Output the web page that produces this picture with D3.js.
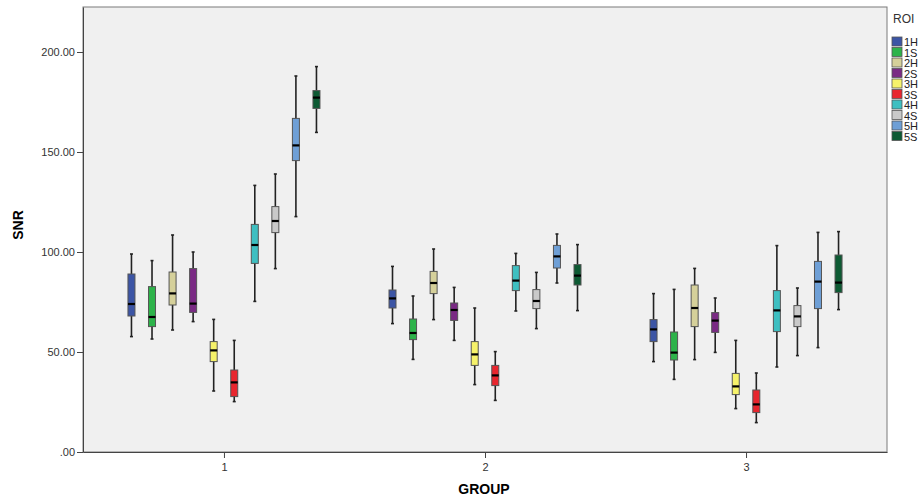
<!DOCTYPE html>
<html>
<head>
<meta charset="utf-8">
<script src="https://cdn.jsdelivr.net/npm/d3@7"></script>
<style>
  body { margin: 0; background: #fff; }
  text { font-family: Arial, "Liberation Sans", sans-serif; }
</style>
</head>
<body>
<div id="chart"></div>
<script>
// data: [low whisker, Q1, median, Q3, high whisker]
var groups = ["1", "2", "3"];
var rois = ["1H", "1S", "2H", "2S", "3H", "3S", "4H", "4S", "5H", "5S"];
var roiColors = ["#3c55a5", "#2db34a", "#d5d09a", "#7a2a84", "#f6f26a", "#e8262e", "#3ebfc1", "#c9c9c9", "#6e9fd6", "#0d5a33"];
var yTicks = [0, 50, 100, 150, 200];

var group1 = [
  [57.7, 68, 74, 89, 99],
  [56.5, 62.7, 67.5, 82.7, 95.7],
  [61, 73.5, 79.3, 90, 108.5],
  [65.2, 69.8, 74.2, 91.7, 100],
  [30.5, 45.2, 50.8, 55.2, 66.3],
  [25.2, 27.7, 34.8, 41, 55.8],
  [75.3, 94.3, 103.5, 113.8, 133.3],
  [91.7, 109.7, 115.5, 122.7, 139],
  [117.7, 145.7, 153.3, 166.8, 188],
  [159.8, 171.8, 177.2, 180.7, 192.7]
];
var group2 = [
  [64.2, 72, 76.8, 81, 92.8],
  [46.3, 56.2, 59.5, 66.5, 78],
  [66.2, 79.2, 84.5, 90.3, 101.5],
  [55.8, 65.8, 71, 74.5, 82.3],
  [33.7, 43.3, 48.8, 55.2, 72],
  [25.8, 33.2, 38.3, 43.3, 50.2],
  [70.5, 80.7, 85.7, 93.2, 99.3],
  [61.7, 71.7, 75.5, 81.2, 89.8],
  [84.5, 92, 97.8, 103.3, 109],
  [70.7, 83.5, 88.2, 93.7, 103.7]
];
var group3 = [
  [45.2, 55.2, 61.3, 66.2, 79.2],
  [36.3, 46, 49.7, 60, 81.3],
  [46.2, 62.7, 72, 83.5, 91.8],
  [49.8, 59.8, 65.7, 69.7, 77],
  [21.7, 28.7, 32.8, 39.3, 55.8],
  [14.7, 19.7, 23.8, 31, 39.5],
  [42.5, 60.2, 70.8, 80.7, 103.2],
  [48.2, 62.7, 67.8, 73.2, 82],
  [52.2, 71.7, 85.2, 95.3, 109.8],
  [71.2, 79.7, 84.7, 98.5, 110.2]
];
var allGroups = [group1, group2, group3];

var W = 921, H = 500;
var plot = { left: 83, right: 887, top: 7, bottom: 452 };

var svg = d3.select("#chart").append("svg")
  .attr("width", W)
  .attr("height", H);

var x = d3.scalePoint()
  .domain(groups)
  .range([plot.left, plot.right])
  .padding(0.54);

var y = d3.scaleLinear()
  .domain([0, 222.5])
  .range([plot.bottom, plot.top]);

var offset = d3.scalePoint()
  .domain(rois)
  .range([-92.5, 92.5]);

var color = d3.scaleOrdinal().domain(rois).range(roiColors);

// plot background
svg.append("rect")
  .attr("x", plot.left)
  .attr("y", plot.top)
  .attr("width", plot.right - plot.left)
  .attr("height", plot.bottom - plot.top)
  .attr("fill", "#f0f0f0")
  .attr("stroke", "#7a7a7a")
  .attr("stroke-width", 1);

// y axis
var yAxis = svg.append("g")
  .attr("transform", "translate(" + plot.left + ",0)")
  .call(d3.axisLeft(y).tickValues(yTicks).tickSizeInner(6).tickSizeOuter(0).tickPadding(2)
    .tickFormat(d => d === 0 ? ".00" : d3.format(".2f")(d)));
yAxis.select(".domain").attr("stroke", "#444");
yAxis.selectAll(".tick line").attr("stroke", "#444");
yAxis.selectAll("text").attr("font-size", 11).attr("fill", "#333");

// x axis
var xAxis = svg.append("g")
  .attr("transform", "translate(0," + plot.bottom + ")")
  .call(d3.axisBottom(x).tickSizeInner(6).tickSizeOuter(0).tickPadding(5));
xAxis.select(".domain").attr("stroke", "#444");
xAxis.selectAll(".tick line").attr("stroke", "#444");
xAxis.selectAll("text").attr("font-size", 11).attr("fill", "#333");

// axis titles
svg.append("text")
  .attr("text-anchor", "middle")
  .attr("transform", "rotate(-90)")
  .attr("x", -225)
  .attr("y", 23)
  .attr("font-size", 14)
  .attr("font-weight", "bold")
  .text("SNR");

svg.append("text")
  .attr("text-anchor", "middle")
  .attr("x", 484)
  .attr("y", 494)
  .attr("font-size", 14)
  .attr("font-weight", "bold")
  .text("GROUP");

// boxes
var boxW = 7, capW = 3;
allGroups.forEach(function(groupData, gi) {
  var g = svg.append("g");
  groupData.forEach(function(d, ri) {
    var cx = x(groups[gi]) + offset(rois[ri]);
    // whisker
    g.append("line")
      .attr("x1", cx).attr("x2", cx)
      .attr("y1", y(d[0])).attr("y2", y(d[4]))
      .attr("stroke", "#222").attr("stroke-width", 1.6);
    [d[0], d[4]].forEach(function(v) {
      g.append("line")
        .attr("x1", cx - capW / 2).attr("x2", cx + capW / 2)
        .attr("y1", y(v)).attr("y2", y(v))
        .attr("stroke", "#222").attr("stroke-width", 1.6);
    });
    g.append("rect")
      .attr("x", cx - boxW / 2)
      .attr("y", y(d[3]))
      .attr("width", boxW)
      .attr("height", y(d[1]) - y(d[3]))
      .attr("fill", color(rois[ri]))
      .attr("stroke", "#555")
      .attr("stroke-width", 1);
    g.append("line")
      .attr("x1", cx - boxW / 2).attr("x2", cx + boxW / 2)
      .attr("y1", y(d[2])).attr("y2", y(d[2]))
      .attr("stroke", "#000").attr("stroke-width", 2.2);
  });
});

// legend
var legend = svg.append("g").attr("transform", "translate(892,0)");
legend.append("text")
  .attr("x", 1)
  .attr("y", 23)
  .attr("font-size", 12)
  .attr("fill", "#333")
  .text("ROI");

var items = legend.selectAll(".item")
  .data(rois)
  .enter().append("g")
  .attr("class", "item")
  .attr("transform", (d, i) => "translate(0," + (37 + i * 10.5) + ")");
items.append("rect")
  .attr("width", 10)
  .attr("height", 9)
  .attr("fill", d => color(d))
  .attr("stroke", "#555")
  .attr("stroke-width", 0.8);
items.append("text")
  .attr("x", 12)
  .attr("y", 9)
  .attr("font-size", 11)
  .attr("fill", "#222")
  .text(d => d);
</script>
</body>
</html>
